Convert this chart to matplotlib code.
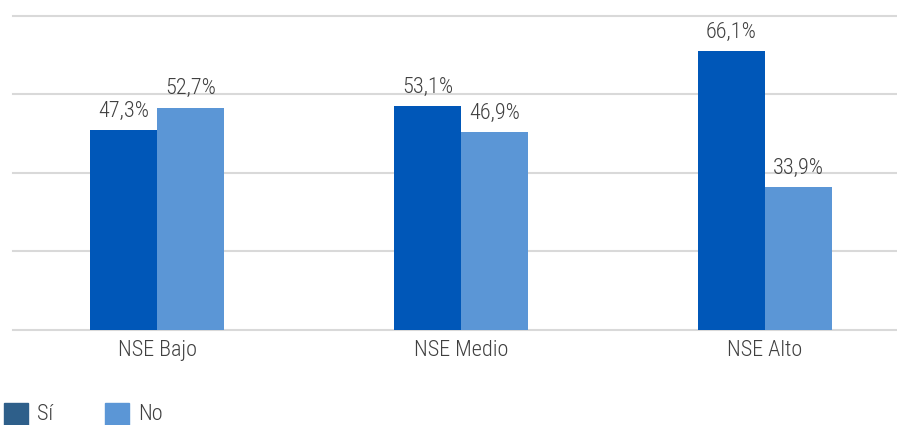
import matplotlib
matplotlib.use("Agg")
import matplotlib.pyplot as plt
from matplotlib.patches import Rectangle
import numpy as np

# datos
categorias = ["NSE Bajo", "NSE Medio", "NSE Alto"]
si = [47.3, 53.1, 66.1]
no = [52.7, 46.9, 33.9]
series = ["Sí", "No"]

col_si = "#0057b8"
col_no = "#5b96d6"
col_si_leyenda = "#2e5f8a"
gris_texto = "#404040"

plt.rcParams["font.family"] = ["Roboto Condensed", "DejaVu Sans"]
plt.rcParams["font.weight"] = "light"

fig = plt.figure(figsize=(8.97, 4.25), dpi=100)
ax = fig.add_axes([13 / 897, 95 / 425, 883 / 897, 314.5 / 425])

x = np.arange(len(categorias))
ancho = 0.22
b1 = ax.bar(x - ancho / 2, si, ancho, color=col_si, zorder=3)
b2 = ax.bar(x + ancho / 2, no, ancho, color=col_no, zorder=3)

# etiquetas de valor sobre cada barra
for barras in (b1, b2):
    for b in barras:
        v = b.get_height()
        ax.annotate(f"{v:.1f}%".replace(".", ","),
                    (b.get_x() + b.get_width() / 2, v),
                    xytext=(0, 6), textcoords="offset points",
                    ha="center", va="bottom", fontsize=16, color=gris_texto)

ymax = 74.5
ax.set_ylim(0, ymax)
ax.set_xlim(-0.474, 2.431)
for yv in np.linspace(0, ymax, 5):
    ax.axhline(yv, color="#d9d9d9", linewidth=1.5, zorder=0, clip_on=False)
ax.tick_params(axis="y", left=False, labelleft=False)
ax.tick_params(axis="x", length=0, pad=7, labelsize=16, labelcolor=gris_texto)
ax.set_xticks(x)
ax.set_xticklabels(categorias)
for s in ax.spines.values():
    s.set_visible(False)

# leyenda
for i, (nombre, c) in enumerate(zip(series, [col_si_leyenda, col_no])):
    x0 = 4 + i * 101
    fig.patches.append(Rectangle((x0 / 897, 0), 24 / 897, 22 / 425,
                                 transform=fig.transFigure, color=c))
    fig.text((x0 + 33) / 897, 0.5 / 425, nombre, fontsize=16,
             color=gris_texto, ha="left", va="bottom")

fig.savefig("out.png", dpi=100)
